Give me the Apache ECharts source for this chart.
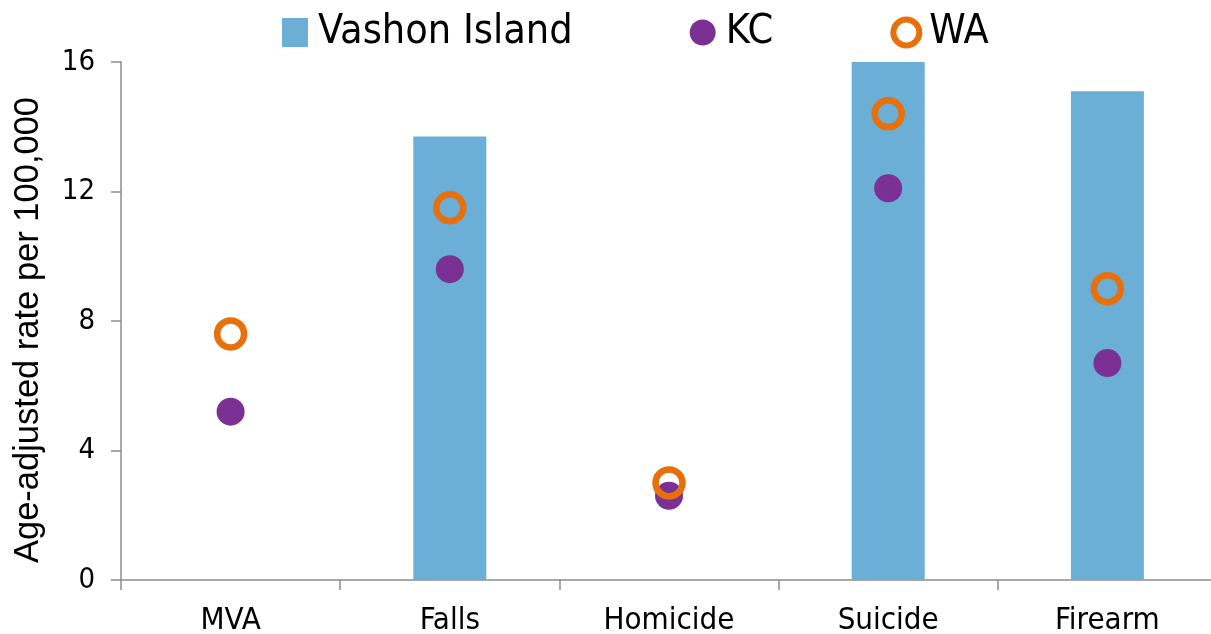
<!DOCTYPE html>
<html>
<head>
<meta charset="utf-8">
<script src="https://cdn.jsdelivr.net/npm/echarts@6/dist/echarts.min.js"></script>
<style>
html,body{margin:0;padding:0;background:#fff;}
#chart{width:1211px;height:634px;}
</style>
</head>
<body>
<div id="chart"></div>
<script>
const categories = ['MVA', 'Falls', 'Homicide', 'Suicide', 'Firearm'];
const vashonValues = [null, 13.7, null, 16.0, 15.1];
const kcValues = [5.2, 9.6, 2.6, 12.1, 6.7];
const waValues = [7.6, 11.5, 3.0, 14.4, 9.0];
const yTicks = { min: 0, max: 16, interval: 4 };
const yAxisTitle = 'Age-adjusted rate per 100,000';

const FONT = '"DejaVu Sans Condensed", "DejaVu Sans", sans-serif';
const BAR = '#6baed6';
const PURPLE = '#7b3193';
const ORANGE = '#e8700c';
const AXIS = '#8c8c8c';

const chart = echarts.init(document.getElementById('chart'));
chart.setOption({
  animation: false,
  backgroundColor: '#fff',
  textStyle: { fontFamily: FONT, color: '#000' },
  legend: {
    left: 282,
    top: 12,
    padding: 0,
    itemGap: 117,
    itemWidth: 26,
    itemHeight: 29,
    textStyle: { fontFamily: FONT, fontSize: 41, color: '#000', padding: [0, 0, 0, 5] },
    data: [
      { name: 'Vashon Island', icon: 'rect' },
      { name: 'KC', icon: 'circle' },
      { name: 'WA', icon: 'circle', itemStyle: { color: 'transparent', borderColor: ORANGE, borderWidth: 6 } }
    ]
  },
  grid: { left: 121, right: -6, top: 62, bottom: 54, containLabel: false, outerBoundsMode: 'none' },
  xAxis: {
    type: 'category',
    data: categories,
    boundaryGap: true,
    axisLine: { lineStyle: { color: AXIS, width: 1.5 } },
    axisTick: { show: true, length: 10, lineStyle: { color: AXIS, width: 1.5 } },
    axisLabel: { fontFamily: FONT, fontSize: 31, color: '#000', margin: 25 }
  },
  yAxis: {
    type: 'value',
    min: yTicks.min, max: yTicks.max, interval: yTicks.interval,
    name: yAxisTitle,
    nameLocation: 'middle',
    nameGap: 75,
    nameTextStyle: { fontFamily: '"Liberation Sans", Arial, sans-serif', fontSize: 34.5, color: '#000', padding: [0, 18, 0, 0] },
    splitLine: { show: false },
    axisLine: { show: true, lineStyle: { color: AXIS, width: 1.5 } },
    axisTick: { show: true, length: 10, lineStyle: { color: AXIS, width: 1.5 } },
    axisLabel: { fontFamily: FONT, fontSize: 29, color: '#000', margin: 26 }
  },
  series: [
    {
      name: 'Vashon Island',
      type: 'bar',
      data: vashonValues,
      barWidth: '33.3%',
      itemStyle: { color: BAR }
    },
    {
      name: 'KC',
      type: 'scatter',
      data: kcValues,
      symbol: 'circle',
      symbolSize: 28,
      itemStyle: { color: PURPLE, opacity: 1 }
    },
    {
      name: 'WA',
      type: 'scatter',
      data: waValues,
      symbol: 'circle',
      symbolSize: 27,
      itemStyle: { color: 'transparent', borderColor: ORANGE, borderWidth: 6.5, opacity: 1 }
    }
  ]
});
</script>
</body>
</html>
